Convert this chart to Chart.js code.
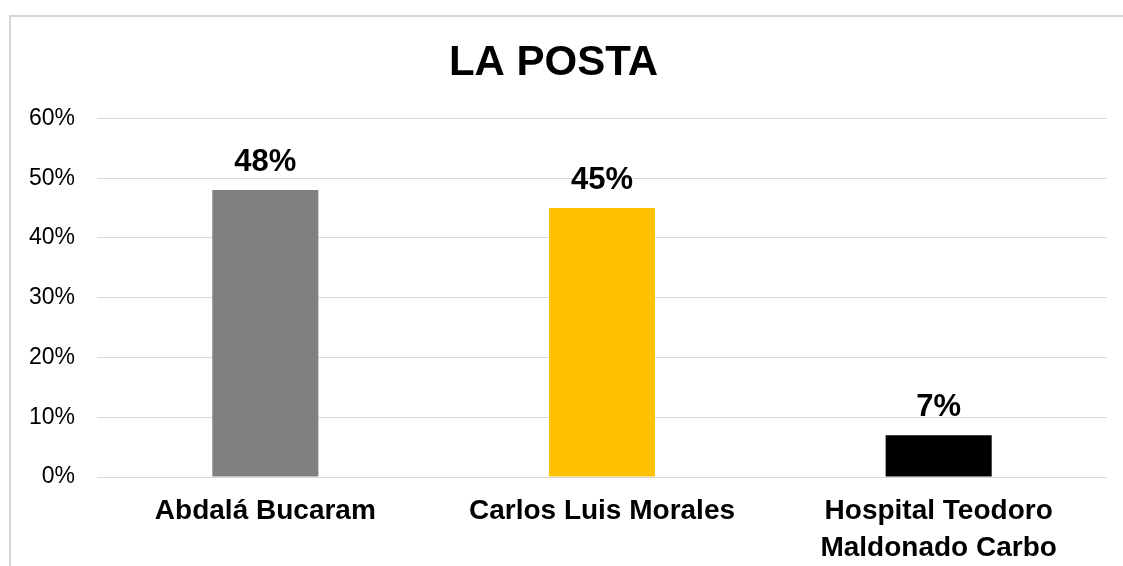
<!DOCTYPE html>
<html>
<head>
<meta charset="utf-8">
<script src="https://cdn.jsdelivr.net/npm/chart.js@4/dist/chart.umd.min.js"></script>
<style>
    html, body { margin: 0; padding: 0; background: #fff; }
    #frame {
        position: absolute; left: 9px; top: 15px; right: 0; bottom: 0;
        border-top: 2px solid #d6d6d6; border-left: 2px solid #d6d6d6;
    }
    #wrap { position: absolute; left: 0; top: 0; width: 1123px; height: 566px; }
</style>
</head>
<body>
<div id="frame"></div>
<div id="wrap"><canvas id="postaChart" width="1123" height="566"></canvas></div>
<script>
// datos del grafico
const categories = ['Abdalá Bucaram', 'Carlos Luis Morales', ['Hospital Teodoro', 'Maldonado Carbo']];
const percentValues = [48, 45, 7];
const barColors = ['#808080', '#FFC000', '#000000'];
const yTicks = [0, 10, 20, 30, 40, 50, 60];

const FONT = "'Liberation Sans', Arial, sans-serif";

// etiquetas de valor encima de cada barra
const valueLabels = {
    id: 'valueLabels',
    afterDatasetsDraw(chart) {
        const ctx = chart.ctx;
        const meta = chart.getDatasetMeta(0);
        ctx.save();
        ctx.font = 'bold 31px ' + FONT;
        ctx.fillStyle = '#000';
        ctx.textAlign = 'center';
        ctx.textBaseline = 'alphabetic';
        meta.data.forEach((bar, i) => {
            ctx.fillText(percentValues[i] + '%', bar.x, bar.y - 19);
        });
        ctx.restore();
    }
};

new Chart(document.getElementById('postaChart').getContext('2d'), {
    type: 'bar',
    data: {
        labels: categories,
        datasets: [{
            data: percentValues,
            backgroundColor: barColors,
            borderWidth: 0,
            categoryPercentage: 1,
            barPercentage: 0.315
        }]
    },
    options: {
        responsive: false,
        animation: false,
        layout: { padding: { left: 0, right: 16, top: 0, bottom: 0 } },
        plugins: {
            legend: { display: false },
            tooltip: { enabled: false },
            title: {
                display: true,
                text: 'LA POSTA',
                color: '#000',
                font: { family: FONT, size: 42, weight: 'bold', lineHeight: 1.2 },
                padding: { top: 38, bottom: 30 }
            }
        },
        scales: {
            y: {
                min: 0,
                max: 60,
                afterBuildTicks: (scale) => { scale.ticks = yTicks.map(v => ({ value: v })); },
                afterFit: (scale) => { scale.width = 97; },
                border: { display: false },
                grid: { color: '#d9d9d9', lineWidth: 1, drawTicks: false },
                ticks: {
                    padding: 22,
                    color: '#000',
                    font: { family: FONT, size: 23 },
                    callback: (v) => v + '%'
                }
            },
            x: {
                afterFit: (scale) => { scale.height = 89; },
                border: { display: false },
                grid: { display: false, drawTicks: false },
                ticks: {
                    padding: 15,
                    color: '#000',
                    maxRotation: 0,
                    autoSkip: false,
                    font: { family: FONT, size: 28, weight: 'bold', lineHeight: 1.35 }
                }
            }
        }
    },
    plugins: [valueLabels]
});
</script>
</body>
</html>
